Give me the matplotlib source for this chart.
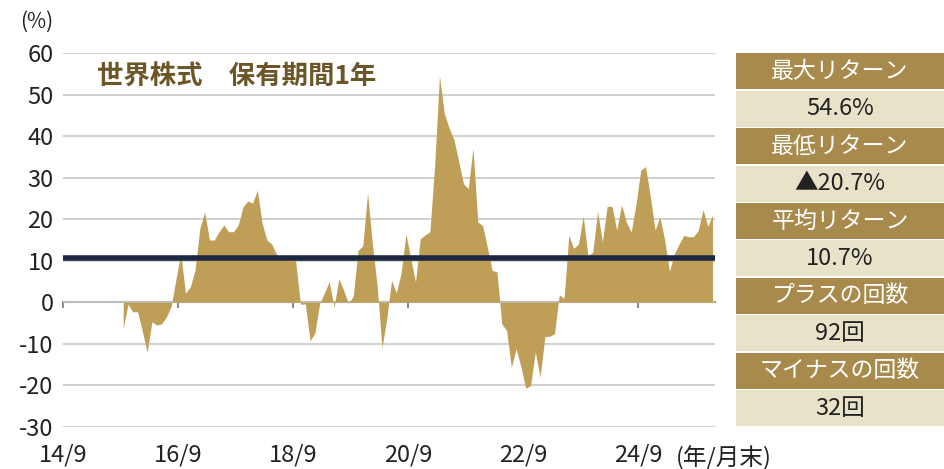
import numpy as np
import matplotlib
matplotlib.use("Agg")
import matplotlib.pyplot as plt
from matplotlib.patches import Rectangle

plt.rcParams['font.family'] = ['Noto Sans CJK JP', 'DejaVu Sans']
plt.rcParams['axes.unicode_minus'] = False

# rolling 1-year return (%), monthly from 15/9 to 25/12
first_month = 12          # months after 14/9
returns = [
    -6.3, -0.5, -2.3, -2.3, -7.0, -12.0, -4.7, -5.5, -5.2, -3.6, -1.0,
    5.5, 11.8, 2.2, 3.7, 7.8, 17.8, 21.8, 15.0, 15.0, 17.0, 18.6, 17.0, 17.0,
    18.6, 23.0, 24.4, 23.9, 27.0, 19.0, 15.0, 14.0, 11.5, 10.7, 10.8, 11.0, 9.8,
    -0.5, -0.4, -9.3, -7.4, -0.3, 2.3, 5.0, -1.2, 5.7, 2.9, -0.3, 1.4,
    12.5, 13.6, 26.4, 14.0, 4.0, -11.0, -4.0, 5.3, 2.3, 7.0, 16.5, 10.6,
    4.9, 15.3, 16.2, 17.0, 33.0, 54.6, 45.6, 42.0, 39.3, 34.0, 28.6, 27.4,
    37.1, 19.3, 18.5, 13.2, 7.7, 7.3, -5.2, -6.8, -15.7, -11.2, -15.6, -20.7,
    -20.1, -12.0, -18.1, -8.3, -8.2, -7.6, 1.8, 0.9, 16.2, 13.0, 14.0, 20.7,
    11.2, 12.1, 21.9, 14.6, 23.1, 23.1, 17.4, 23.5, 19.3, 16.9, 23.5, 31.8,
    32.7, 25.6, 17.4, 20.6, 15.0, 7.5, 11.7, 14.0, 16.1, 15.8, 15.8, 17.3,
    22.3, 18.3, 21.0,
]
average = 10.7
n_months = 136
tick_labels = ["14/9", "16/9", "18/9", "20/9", "22/9", "24/9"]
tick_step = 24
y_ticks = list(range(-30, 61, 10))

stat_headers = ["最大リターン", "最低リターン", "平均リターン", "プラスの回数", "マイナスの回数"]
stat_values = ["54.6%", "▲20.7%", "10.7%", "92回", "32回"]

GOLD = "#bf9f58"
HEAD = "#a88b4c"
CELL = "#e8e2c8"
NAVY = "#1c2742"
TITLE = "#6b5628"
GRID = "#c8c8c8"
TXT = "#222222"

W, H = 944, 469
fig = plt.figure(figsize=(W / 100, H / 100), dpi=100)

# main chart
ax = fig.add_axes([63.3 / W, 1 - 426.7 / H, (715 - 63.3) / W, (426.7 - 53.3) / H])
x = np.arange(len(returns)) + first_month + 0.5
ax.fill_between(x, returns, 0, color=GOLD, lw=0, zorder=2)
ax.plot([0, n_months], [average, average], color=NAVY, lw=4,
        solid_capstyle="round", zorder=4)

ax.set_xlim(0, n_months)
ax.set_ylim(-30, 60)
ax.set_yticks(y_ticks)
ax.grid(axis="y", color=GRID, lw=1.2, zorder=0)
ax.tick_params(axis="y", length=0, pad=7, labelsize=17, labelcolor=TXT)
ticks = np.arange(len(tick_labels)) * tick_step
ax.set_xticks(ticks)
ax.set_xticklabels(tick_labels)
ax.tick_params(axis="x", length=0, pad=12, labelsize=17, labelcolor=TXT)
for s in ax.spines.values():
    s.set_visible(False)

# zero axis with tick marks
zax = ax.secondary_xaxis(1 / 3)
zax.set_xticks(ticks)
zax.tick_params(axis="x", direction="out", length=4, width=1.5,
                color="#8c8c8c", labelbottom=False)
zax.spines["bottom"].set_color("#8c8c8c")
zax.spines["bottom"].set_linewidth(1.5)

ax.annotate("(年/月末)", xy=(ticks[-1], 0), xycoords=ax.get_xaxis_transform(),
            xytext=(38, -31), textcoords="offset pixels", ha="left", va="center",
            fontsize=17, color=TXT)
ax.text(0.052, 0.937, "世界株式　保有期間1年", transform=ax.transAxes,
        fontsize=19, fontweight="bold", color=TITLE, va="center", ha="left")
fig.text(37 / W, 1 - 22 / H, "(%)", fontsize=15, color=TXT,
         ha="center", va="center")

# statistics table
tax = fig.add_axes([736 / W, 1 - 426.7 / H, (W - 736) / W, (426.7 - 52.7) / H])
tax.set_xlim(0, 1)
tax.set_ylim(2 * len(stat_headers), 0)
tax.axis("off")
gap = 0.035
for i, (head, val) in enumerate(zip(stat_headers, stat_values)):
    r0 = 2 * i
    tax.add_patch(Rectangle((0, r0 + gap / 2), 1, 1 - gap, color=HEAD, lw=0))
    tax.add_patch(Rectangle((0, r0 + 1 + gap / 2), 1, 1 - gap, color=CELL, lw=0))
    tax.text(0.5, r0 + 0.5, head, ha="center", va="center", fontsize=16.5,
             color="white")
    tax.text(0.5, r0 + 1.5, val, ha="center", va="center", fontsize=17,
             color=TXT)

fig.savefig("out.png", dpi=100)
